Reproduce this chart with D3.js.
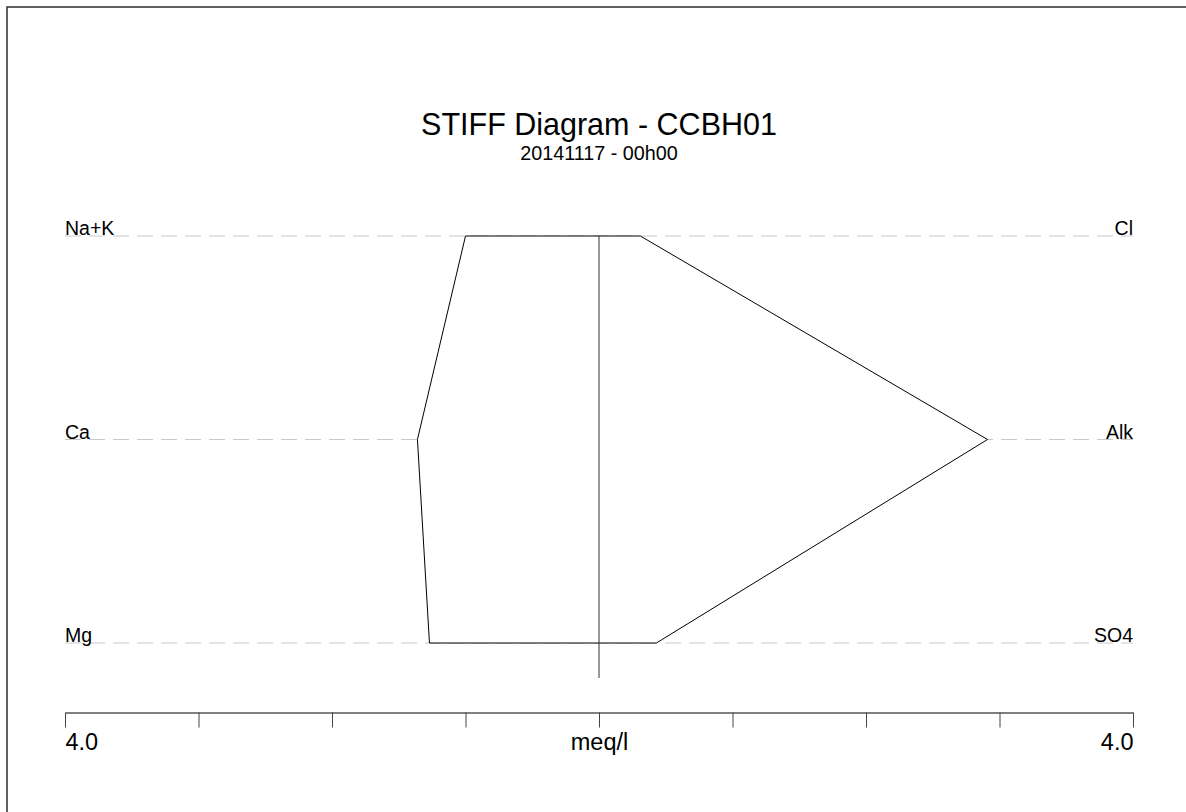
<!DOCTYPE html>
<html><head><meta charset="utf-8">
<script src="https://cdn.jsdelivr.net/npm/d3@7/dist/d3.min.js"></script>
<style>body{margin:0;background:#fff;}svg{display:block;font-family:Arial,"Liberation Sans",sans-serif;}</style>
</head><body>
<script>
const cations = ["Na+K", "Ca", "Mg"];
const anions = ["Cl", "Alk", "SO4"];
const cationValues = [1.00, 1.36, 1.27];
const anionValues = [0.31, 2.91, 0.43];
const tickValues = [-4, -3, -2, -1, 0, 1, 2, 3, 4];
const tickLabels = ["4.0", "", "", "", "meq/l", "", "", "", "4.0"];
const title = "STIFF Diagram - CCBH01";
const subtitle = "20141117 - 00h00";

const W = 1186, H = 812;
const svg = d3.select("body").append("svg").attr("width", W).attr("height", H);

svg.append("rect").attr("x", 7).attr("y", 7).attr("width", 1400).attr("height", 1000)
  .attr("fill", "none").attr("stroke", "#3a3a3a").attr("stroke-width", 1.6);

const x = d3.scaleLinear().domain([-4, 4]).range([65, 1133]);
const y = d3.scalePoint().domain(d3.range(cations.length)).range([236, 643]);

svg.append("text").attr("x", 599).attr("y", 135).attr("text-anchor", "middle")
  .attr("font-size", 30.5).text(title);
svg.append("text").attr("x", 599).attr("y", 160).attr("text-anchor", "middle")
  .attr("font-size", 19.8).text(subtitle);

// dashed guide lines
svg.append("g").selectAll("line").data(cations).join("line")
  .attr("x1", x(-4)).attr("x2", x(4))
  .attr("y1", (d, i) => y(i)).attr("y2", (d, i) => y(i))
  .attr("stroke", "#c8c8c8").attr("stroke-width", 1).attr("stroke-dasharray", "16,8");

// polygon
const pts = [];
cationValues.forEach((v, i) => pts.push([x(-v), y(i)]));
for (let i = anionValues.length - 1; i >= 0; i--) pts.push([x(anionValues[i]), y(i)]);
svg.append("path").attr("d", d3.line()(pts) + "Z")
  .attr("fill", "#fff").attr("stroke", "#000").attr("stroke-width", 1);

// center line
svg.append("line").attr("x1", x(0)).attr("x2", x(0)).attr("y1", y(0)).attr("y2", 678)
  .attr("stroke", "#333").attr("stroke-width", 1);

// row labels
svg.append("g").selectAll("text").data(cations).join("text")
  .attr("x", x(-4)).attr("y", (d, i) => y(i) - 1).attr("font-size", 19.5).text(d => d);
svg.append("g").selectAll("text").data(anions).join("text")
  .attr("x", x(4)).attr("y", (d, i) => y(i) - 1).attr("text-anchor", "end").attr("font-size", 19.5).text(d => d);

// axis
const axis = d3.axisBottom(x).tickValues(tickValues).tickSize(15).tickSizeOuter(0)
  .tickFormat((d, i) => tickLabels[i]);
const g = svg.append("g").attr("transform", "translate(0,712.5)").call(axis);
g.select(".domain").attr("stroke", "#000");
g.selectAll(".tick line").attr("stroke", "#444");
g.selectAll(".tick text").attr("font-size", 23.5).attr("font-family", "Arial, 'Liberation Sans', sans-serif")
  .attr("fill", "#000").attr("dy", null).attr("y", 37.5)
  .attr("text-anchor", (d, i) => i === 0 ? "start" : (i === tickValues.length - 1 ? "end" : "middle"));
</script>
</body></html>
